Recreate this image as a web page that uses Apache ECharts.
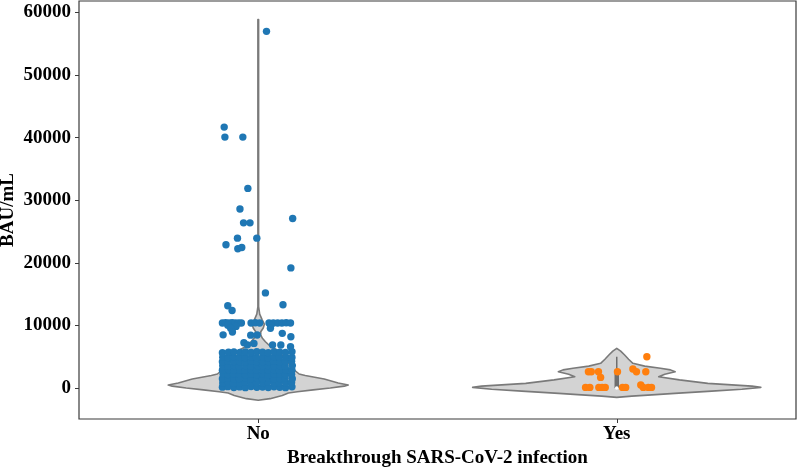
<!DOCTYPE html>
<html>
<head>
<meta charset="utf-8">
<script src="https://cdn.jsdelivr.net/npm/echarts@6/dist/echarts.min.js"></script>
<style>html,body{margin:0;padding:0;background:#fff}#c{width:797px;height:467px}</style>
</head>
<body>
<div id="c"></div>
<script>
// ---------- data ----------
const categories = ['No', 'Yes'];
const yTickValues = [0, 10000, 20000, 30000, 40000, 50000, 60000];

// violin outlines: antibody values and half-widths (in category units)
const noViolinValues    = [-1950, -1700, -1200, -800, -600, -300, 0, 300, 480, 800, 1440, 2000, 2240, 3000, 4000, 5000, 6000, 6600, 7400, 8000, 8500, 9000, 9600, 10200, 10900, 11800, 13000, 58900];
const noViolinHalfWidth = [0, 0.033, 0.067, 0.084, 0.109, 0.153, 0.201, 0.240, 0.251, 0.223, 0.184, 0.131, 0.114, 0.098, 0.084, 0.070, 0.056, 0.035, 0.020, 0.011, 0.007, 0.007, 0.014, 0.017, 0.011, 0.004, 0.001, 0.001];
const yesViolinValues    = [-1500, -1300, -1100, -850, -500, -200, 100, 300, 750, 1300, 1800, 2200, 2600, 2900, 3150, 3500, 3950, 4600, 5270, 5900, 6350];
const yesViolinHalfWidth = [0, 0.042, 0.098, 0.162, 0.265, 0.349, 0.402, 0.377, 0.254, 0.175, 0.117, 0.134, 0.163, 0.150, 0.122, 0.078, 0.045, 0.033, 0.022, 0.011, 0];

// inner box of the "Yes" violin: [low whisker, Q1, median, Q3, high whisker]
const yesBoxStats = [0, 0, 0, 2900, 5000];

// strip-plot points: [jitter, BAU/mL]
const noPoints = [
  [0.023,57000],
  [-0.095,41700],[-0.093,40100],[-0.043,40100],
  [-0.029,31900],[-0.051,28600],
  [-0.041,26400],[-0.023,26400],[0.096,27100],
  [-0.058,23950],[-0.004,23950],
  [-0.090,22900],[-0.057,22250],[-0.046,22450],
  [0.091,19200],[0.020,15200],
  [0.069,13300],[-0.085,13150],[-0.073,12400],
  [-0.100,10400],[-0.091,10450],[-0.082,10400],[-0.073,10420],[-0.064,10400],[-0.055,10380],[-0.047,10400],
  [-0.020,10400],[-0.008,10420],[0.004,10400],
  [0.030,10400],[0.042,10410],[0.054,10400],[0.066,10400],[0.078,10420],[0.090,10400],
  [-0.085,10050],[-0.062,9850],[0.035,10000],[-0.077,9550],[0.034,9550],
  [-0.098,8500],[-0.072,8950],[-0.021,8450],[-0.003,8470],[0.067,8740],[0.091,8200],
  [-0.040,7240],[-0.012,7130],[0.040,6870],[0.063,6870],[-0.030,6900],[0.090,6600],
  [-0.100,140],[-0.085,220],[-0.068,90],[-0.052,180],[-0.036,60],[-0.020,250],[-0.004,120],[0.012,170],[0.028,70],[0.044,210],[0.060,130],[0.076,60],[0.094,190],
  [-0.099,820],[-0.083,900],[-0.069,760],[-0.051,850],[-0.037,930],[-0.019,780],[-0.005,880],[0.013,800],[0.027,950],[0.045,760],[0.059,870],[0.077,820],[0.093,900],
  [-0.100,1480],[-0.084,1560],[-0.067,1450],[-0.053,1530],[-0.035,1600],[-0.021,1470],[-0.003,1540],[0.011,1500],[0.029,1580],[0.043,1440],[0.061,1520],[0.075,1560],[0.095,1490],
  [-0.098,2200],[-0.085,2150],[-0.069,2260],[-0.052,2180],[-0.036,2120],[-0.019,2240],[-0.004,2170],[0.012,2230],[0.028,2140],[0.044,2210],[0.060,2270],[0.076,2150],[0.093,2200],
  [-0.100,2860],[-0.083,2920],[-0.068,2830],[-0.051,2900],[-0.037,2850],[-0.020,2940],[-0.005,2880],[0.013,2820],[0.027,2910],[0.045,2870],[0.059,2830],[0.077,2930],[0.094,2860],
  [-0.099,3560],[-0.084,3500],[-0.067,3600],[-0.053,3530],[-0.035,3580],[-0.021,3510],[-0.003,3570],[0.012,3540],[0.028,3600],[0.044,3520],[0.061,3560],[0.075,3500],[0.095,3580],
  [-0.100,4200],[-0.085,4260],[-0.068,4230],[-0.052,4240],[-0.036,4190],[-0.020,4270],[-0.004,4220],[0.012,4250],[0.029,4200],[0.043,4280],[0.060,4210],[0.076,4240],[0.093,4260],
  [-0.099,4920],[-0.084,4880],[-0.069,4950],[-0.052,4900],[-0.037,4870],[-0.019,4940],[-0.005,4890],[0.013,4930],[0.027,4880],[0.045,4950],[0.059,4900],[0.077,4920],[0.094,4880],
  [-0.100,5650],[-0.083,5720],[-0.068,5780],[-0.051,5700],[-0.036,5760],[-0.020,5680],[-0.004,5800],[0.012,5720],[0.028,5660],[0.044,5780],[0.060,5740],[0.076,5690],[0.094,5800]
];
const yesPoints = [
  [0.084,5000],
  [-0.079,2600],[-0.071,2600],[-0.051,2600],
  [-0.045,1700],[0.002,2600],
  [0.045,3030],[0.055,2600],[0.081,2600],
  [-0.087,100],[-0.075,100],[-0.050,100],[-0.041,100],[-0.032,100],
  [0.016,100],[0.025,100],[0.067,480],[0.074,100],[0.088,100],[0.097,100]
];

// ---------- chart ----------
const FONT = '"Liberation Serif", "Times New Roman", serif';
const chart = echarts.init(document.getElementById('c'), null, {renderer: 'canvas'});

function renderViolin(params, api) {
  const c = api.value(0);
  const vals = c === 0 ? noViolinValues : yesViolinValues;
  const hws = c === 0 ? noViolinHalfWidth : yesViolinHalfWidth;
  const pts = [];
  for (let k = 0; k < vals.length; k++) pts.push(api.coord([c + hws[k], vals[k]]));
  for (let k = vals.length - 1; k >= 0; k--) pts.push(api.coord([c - hws[k], vals[k]]));
  return {
    type: 'polygon',
    shape: {points: pts},
    style: {fill: '#d3d3d3', stroke: '#7a7a7a', lineWidth: 1.6, lineJoin: 'round'}
  };
}

function renderBox(params, api) {
  const c = api.value(0);
  const lo = api.coord([c, api.value(1)]);
  const q1 = api.coord([c, api.value(2)]);
  const med = api.coord([c, api.value(3)]);
  const q3 = api.coord([c, api.value(4)]);
  const hi = api.coord([c, api.value(5)]);
  return {
    type: 'group',
    children: [
      {type: 'line', shape: {x1: lo[0], y1: lo[1], x2: hi[0], y2: hi[1]}, style: {stroke: '#6e6e6e', lineWidth: 1.5}},
      {type: 'line', shape: {x1: q1[0], y1: q1[1], x2: q3[0], y2: q3[1]}, style: {stroke: '#6e6e6e', lineWidth: 4.5}},
      {type: 'circle', shape: {cx: med[0], cy: med[1], r: 1.8}, style: {fill: '#ffffff'}}
    ]
  };
}

chart.setOption({
  animation: false,
  backgroundColor: '#ffffff',
  grid: {left: 79, right: 1, top: 1, bottom: 48, containLabel: false, outerBoundsMode: 'none',
    show: true, borderColor: '#3a3a3a', borderWidth: 1.2, backgroundColor: 'transparent'},
  xAxis: {
    type: 'value', min: -0.5, max: 1.5,
    name: 'Breakthrough SARS-CoV-2 infection',
    nameLocation: 'middle', nameGap: 30, nameMoveOverlap: false,
    nameTextStyle: {fontFamily: FONT, fontWeight: 'bold', fontSize: 19, color: '#000'},
    axisLine: {show: false, onZero: false},
    axisTick: {show: true, length: 4, customValues: [0, 1], lineStyle: {color: '#3a3a3a', width: 1}},
    axisLabel: {customValues: [0, 1], margin: 6, fontFamily: FONT, fontWeight: 'bold', fontSize: 19, color: '#000',
      formatter: v => categories[Math.round(v)]},
    splitLine: {show: false}
  },
  yAxis: {
    type: 'value', min: -4950, max: 61850,
    name: 'BAU/mL',
    nameLocation: 'middle', nameGap: 61, nameMoveOverlap: false,
    nameTextStyle: {fontFamily: FONT, fontWeight: 'bold', fontSize: 19, color: '#000'},
    axisLine: {show: false, onZero: false},
    axisTick: {show: true, length: 4, customValues: yTickValues, lineStyle: {color: '#3a3a3a', width: 1}},
    axisLabel: {customValues: yTickValues, margin: 8, fontFamily: FONT, fontWeight: 'bold', fontSize: 19, color: '#000',
      formatter: v => String(Math.round(v))},
    splitLine: {show: false}
  },
  series: [
    {type: 'custom', renderItem: renderViolin, data: [[0], [1]], z: 1, silent: true},
    {type: 'custom', renderItem: renderBox, data: [[1].concat(yesBoxStats)], z: 2, silent: true},
    {type: 'scatter', data: noPoints.map(p => [0 + p[0], p[1]]), symbolSize: 7.4, itemStyle: {color: '#1f77b4', opacity: 1}, z: 3},
    {type: 'scatter', data: yesPoints.map(p => [1 + p[0], p[1]]), symbolSize: 7.4, itemStyle: {color: '#ff7f0e', opacity: 1}, z: 3}
  ]
});
</script>
</body>
</html>
